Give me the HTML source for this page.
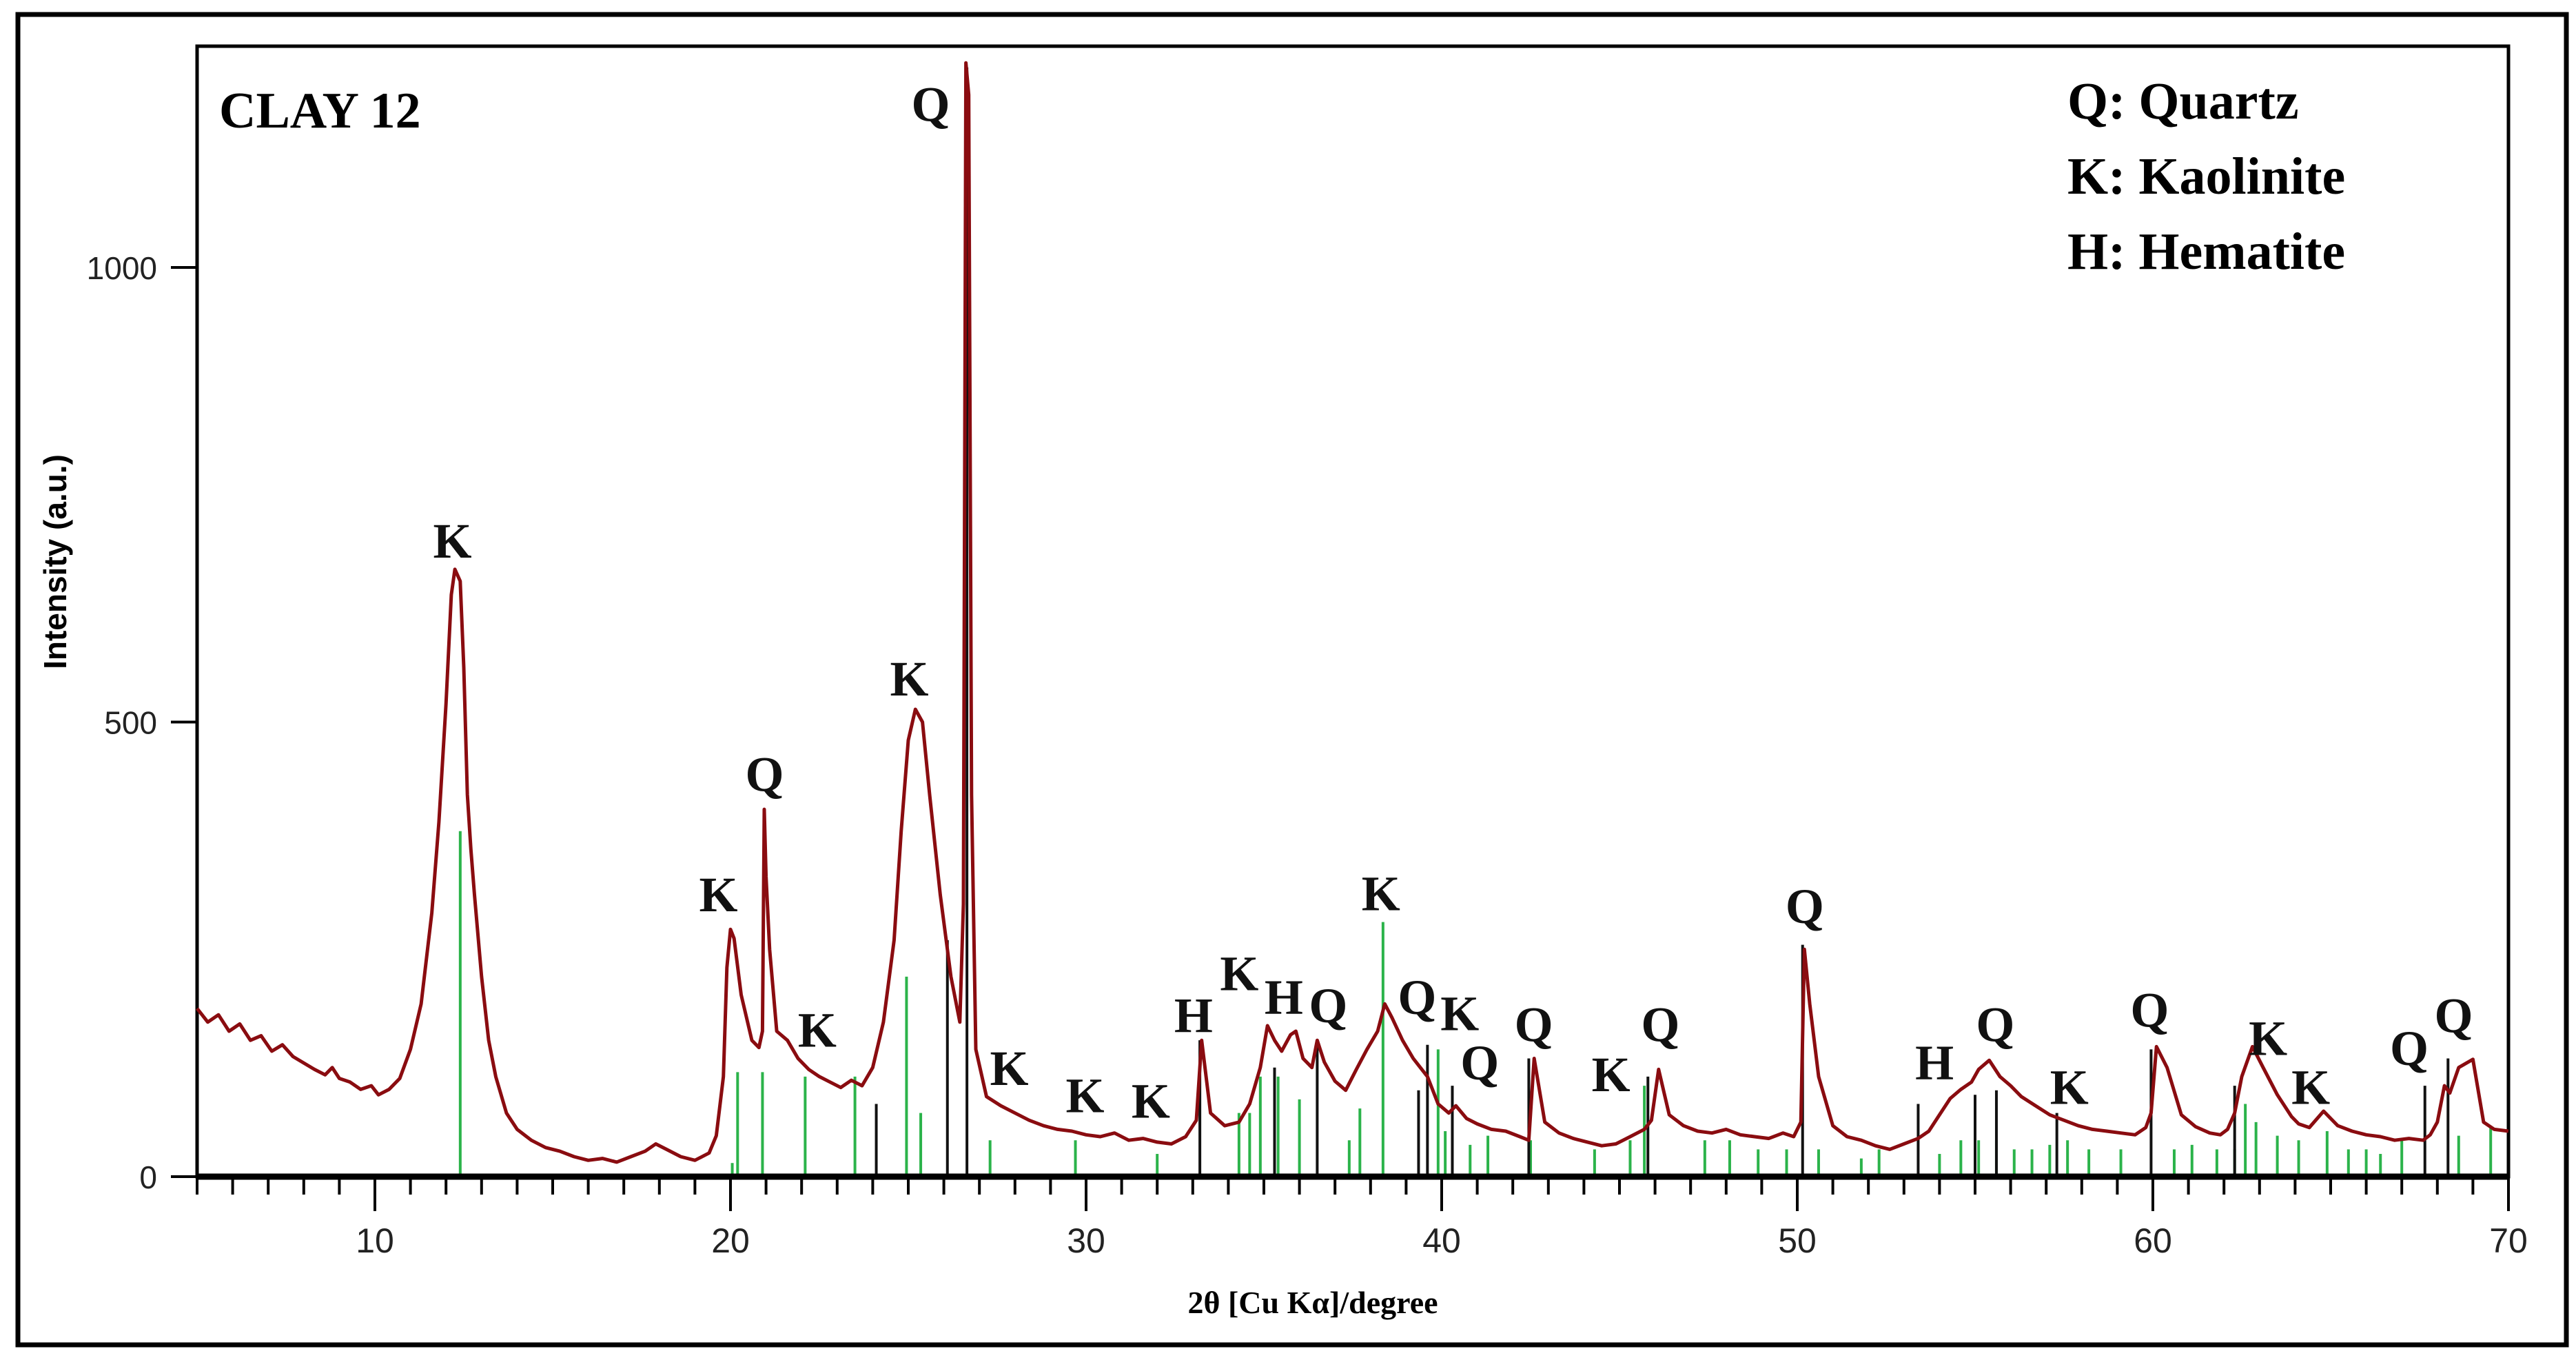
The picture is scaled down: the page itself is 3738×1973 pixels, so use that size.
<!DOCTYPE html>
<html><head><meta charset="utf-8"><style>
html,body{margin:0;padding:0;background:#fff;}
svg{display:block;}
</style></head><body>
<svg id="chart" width="3738" height="1973" viewBox="0 0 3738 1973" xmlns="http://www.w3.org/2000/svg">
<rect x="26" y="21" width="3698" height="1930" fill="#fff" stroke="#000" stroke-width="7"/>
<g id="plot"></g>
<text x="318" y="185" font-family="Liberation Serif, serif" font-weight="bold" font-size="74">CLAY 12</text>
<g font-family="Liberation Serif, serif" font-weight="bold" font-size="76">
<text x="3000" y="172">Q: Quartz</text>
<text x="3000" y="281">K: Kaolinite</text>
<text x="3000" y="390">H: Hematite</text>
</g>
<text transform="translate(96,815) rotate(-90)" text-anchor="middle" font-family="Liberation Sans Narrow, Liberation Sans, sans-serif" font-weight="bold" font-size="46">Intensity (a.u.)</text>
<text x="1905" y="1905" text-anchor="middle" font-family="Liberation Serif, serif" font-weight="bold" font-size="46">2θ [Cu Kα]/degree</text>
</svg>
<script>
// profile data: 2theta (deg) and intensity
const profX = [5,5.3,5.6,5.9,6.2,6.5,6.8,7.1,7.4,7.7,8,8.3,8.6,8.8,9,9.3,9.6,9.9,10.1,10.4,10.7,11,11.3,11.6,11.8,12,12.15,12.25,12.4,12.5,12.6,12.7,12.8,13,13.2,13.4,13.7,14,14.4,14.8,15.2,15.6,16,16.4,16.8,17.2,17.6,17.9,18.2,18.6,19,19.4,19.6,19.8,19.9,20,20.1,20.3,20.6,20.8,20.9,20.95,21.0,21.1,21.3,21.6,21.9,22.2,22.5,22.8,23.1,23.4,23.7,24,24.3,24.6,24.8,25,25.2,25.4,25.6,25.9,26.2,26.45,26.55,26.62,26.7,26.78,26.9,27.2,27.6,28,28.4,28.8,29.2,29.6,30,30.4,30.8,31.2,31.6,32,32.4,32.8,33.1,33.25,33.5,33.9,34.3,34.6,34.9,35.1,35.3,35.5,35.75,35.9,36.1,36.35,36.5,36.7,37,37.3,37.6,37.9,38.2,38.4,38.6,38.9,39.2,39.4,39.6,39.9,40.2,40.4,40.7,41,41.4,41.8,42.2,42.45,42.6,42.9,43.3,43.7,44.1,44.5,44.9,45.3,45.7,45.9,46.1,46.4,46.8,47.2,47.6,48,48.4,48.8,49.2,49.6,49.9,50.1,50.2,50.35,50.6,51,51.4,51.8,52.2,52.6,53,53.4,53.7,54,54.3,54.6,54.9,55.1,55.4,55.7,56,56.3,56.7,57.1,57.5,57.9,58.3,58.7,59.1,59.5,59.8,59.95,60.1,60.4,60.8,61.2,61.6,61.9,62.1,62.3,62.5,62.8,63.1,63.5,63.9,64.1,64.4,64.8,65.2,65.6,66,66.4,66.8,67.2,67.6,67.8,68,68.2,68.35,68.6,69,69.3,69.6,70];
const profY = [185,170,178,160,168,150,155,138,145,132,125,118,112,120,108,104,96,100,90,96,108,140,190,290,390,520,640,668,655,560,420,360,310,220,150,110,70,52,40,32,28,22,18,20,16,22,28,36,30,22,18,26,45,110,230,272,262,200,150,142,160,404,330,250,160,150,130,118,110,104,98,106,100,120,170,260,380,480,514,500,420,310,220,170,300,1225,1190,420,140,88,78,70,62,56,52,50,46,44,48,40,42,38,36,44,62,150,70,56,60,80,120,166,150,138,156,160,130,120,150,126,105,95,118,140,160,190,175,150,130,120,110,80,70,78,64,58,52,50,44,40,130,60,48,42,38,34,36,44,52,62,118,68,56,50,48,52,46,44,42,48,44,60,250,190,110,56,44,40,34,30,36,42,50,68,86,96,104,118,128,110,100,88,78,68,62,56,52,50,48,46,54,70,143,120,68,55,48,46,52,70,110,143,120,90,66,58,54,72,56,50,46,44,40,42,40,46,60,100,92,120,129,60,52,50,46,44,46];
// reference stick patterns
const greenX = [12.4,20.05,20.2,20.9,22.1,23.5,24.95,25.35,27.3,29.7,32.0,34.3,34.6,34.9,35.4,36.0,37.4,37.7,38.35,39.9,40.1,40.8,41.3,42.5,44.3,45.3,45.7,47.4,48.1,48.9,49.7,50.6,51.8,52.3,54.0,54.6,55.1,55.6,56.1,56.6,57.1,57.6,58.2,59.1,60.6,61.1,61.8,62.3,62.6,62.9,63.5,64.1,64.9,65.5,66.0,66.4,67.0,68.6,69.5];
const greenH = [380,15,115,115,110,110,220,70,40,40,25,70,70,110,110,85,40,75,280,140,50,35,45,40,30,40,100,40,40,30,30,30,20,30,25,40,40,40,30,30,35,40,30,30,30,35,30,30,80,60,45,40,50,30,30,25,40,45,55];
const blackX = [24.1,26.1,26.65,33.2,35.3,36.5,39.35,39.6,40.3,42.45,45.8,50.15,53.4,55.0,55.6,57.3,59.95,62.3,67.65,68.3];
const blackH = [80,260,1220,150,120,145,95,145,100,130,110,255,80,90,95,70,140,100,100,130];
// peak labels
const labelTxt = ["K","K","Q","K","Q","K","K","K","K","H","K","H","Q","K","Q","K","Q","Q","K","Q","Q","H","Q","K","Q","K","K","Q","Q"];
const labelX = [12.18,19.66,20.96,25.03,25.63,22.44,27.84,29.97,31.82,33.02,34.31,35.56,36.81,38.29,39.31,40.51,41.07,42.59,44.76,46.15,50.21,53.86,55.57,57.65,59.91,63.24,64.44,67.21,68.46];
const labelY = [681,292,424,529,1161,143,101,71,65,159,205,179,170,293,179,161,107,149,94,149,279,107,149,80,165,134,80,123,159];
const xTicks = [10,20,30,40,50,60,70];
const yTicks = [0,500,1000];

const NS = "http://www.w3.org/2000/svg";
const X0 = 286, X1 = 3640, Y0 = 1707, YT = 67;
const xs = d => X0 + (d - 5) / 65 * (X1 - X0);
const ys = v => Y0 - v * 1.319;
const plot = document.getElementById('plot');
function mk(tag, attrs, parent){const e=document.createElementNS(NS,tag);for(const k in attrs)e.setAttribute(k,attrs[k]);(parent||plot).appendChild(e);return e;}

const frame = mk('rect',{x:X0,y:YT,width:X1-X0,height:Y0-YT,fill:'none',stroke:'#000','stroke-width':5});



for(let i=0;i<greenX.length;i++){
  const l = mk('line',{x1:xs(greenX[i]),x2:xs(greenX[i]),y1:Y0,y2:ys(greenH[i]),stroke:'#2bb34a','stroke-width':4});
  
  
}
for(let i=0;i<blackX.length;i++){
  const l = mk('line',{x1:xs(blackX[i]),x2:xs(blackX[i]),y1:Y0,y2:ys(blackH[i]),stroke:'#111','stroke-width':4});
  
  
}
let d = '';
for(let i=0;i<profX.length;i++){ d += (i?'L':'M') + xs(profX[i]).toFixed(1) + ' ' + ys(profY[i]).toFixed(1); }
const path = mk('path',{d:d,fill:'none',stroke:'#8a0c10','stroke-width':5,'stroke-linejoin':'round'});



// axis
const ax = mk('line',{x1:X0,x2:X1,y1:Y0,y2:Y0,stroke:'#000','stroke-width':9});


for(let t=5;t<=70;t++){
  const major = t%10===0;
  const tk = mk('line',{x1:xs(t),x2:xs(t),y1:Y0,y2:Y0+(major?50:26),stroke:'#000','stroke-width':4});
  
  
}
xTicks.forEach(t=>{
  const tx = mk('text',{x:xs(t),y:Y0+110,'text-anchor':'middle','font-family':'Liberation Sans Narrow, Liberation Sans, sans-serif','font-size':50,fill:'#222'});
  tx.textContent = t;
  
  
});
yTicks.forEach(t=>{
  const tk = mk('line',{x1:X0-38,x2:X0,y1:ys(t),y2:ys(t),stroke:'#000','stroke-width':4});
  
  
  const tx = mk('text',{x:X0-58,y:ys(t)+17,'text-anchor':'end','font-family':'Liberation Sans, sans-serif','font-size':46,fill:'#222'});
  tx.textContent = t;
  
  
});
for(let i=0;i<labelTxt.length;i++){
  const tx = mk('text',{x:xs(labelX[i]),y:ys(labelY[i]),'text-anchor':'middle','font-family':'Liberation Serif, serif','font-weight':'bold','font-size':72,fill:'#111'});
  tx.textContent = labelTxt[i];
  
  
}
</script>
</body></html>
